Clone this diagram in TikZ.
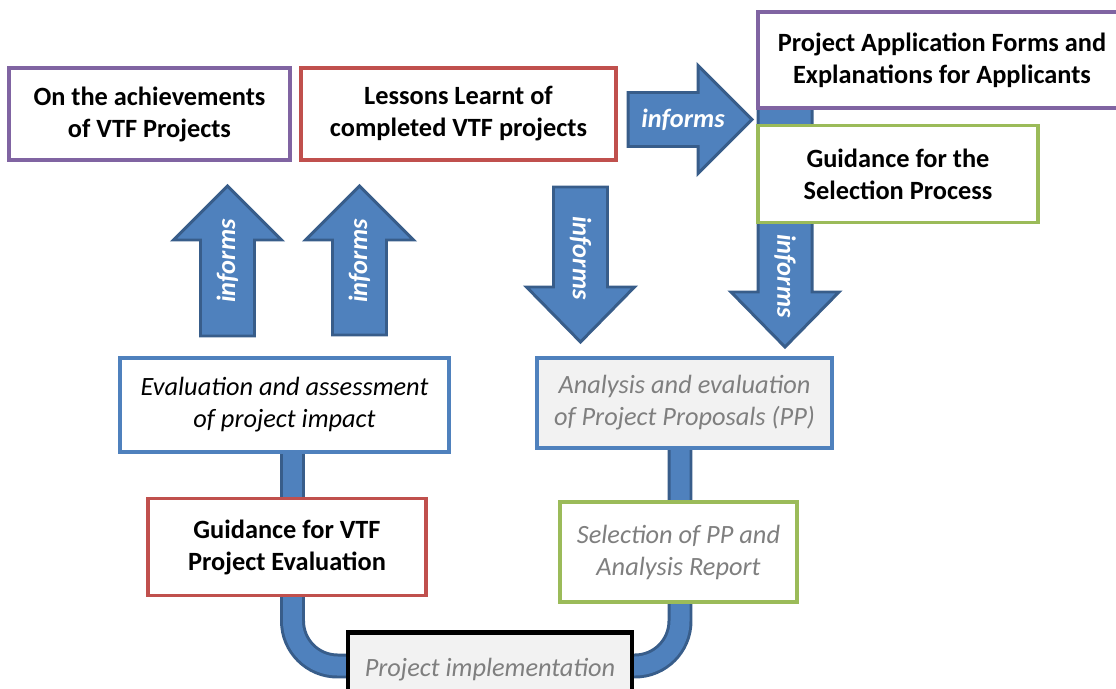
\documentclass[tikz,border=0pt]{standalone}
\usepackage{fontspec}
\setmainfont{Carlito}
\usetikzlibrary{backgrounds}
\definecolor{vtfpurple}{HTML}{8064A2}
\definecolor{vtfred}{HTML}{C0504D}
\definecolor{vtfgreen}{HTML}{9BBB59}
\definecolor{vtfblue}{HTML}{4F81BD}
\definecolor{vtfdark}{HTML}{385D8A}
\definecolor{vtfgrey}{HTML}{7F7F7F}
\definecolor{vtffill}{HTML}{F2F2F2}
\tikzset{
  infobox/.style={draw, line width=2.2pt, fill=white, align=center, inner sep=0pt,
    execute at begin node={\rule{0pt}{15pt}}},
  titlebox/.style={infobox, font=\fontsize{15}{18.2}\selectfont\bfseries},
  stepbox/.style={infobox, font=\fontsize{15}{18.2}\selectfont\itshape},
  greybox/.style={stepbox, text=vtfgrey},
  blockarrow/.style={draw=vtfdark, fill=vtfblue, line width=1.7pt, line join=miter},
  informs/.style={text=white, font=\fontsize{15}{18}\selectfont\bfseries\itshape, inner sep=0pt},
  pipe/.style={draw=vtfdark, line width=1.7pt, double=vtfblue, double distance=0.38cm, rounded corners=0.9cm}
}
\def\informsup(#1,#2,#3,#4,#5){
  \draw[blockarrow] (#1-27,#2) -- (#1-27,#3+54) -- (#1-54,#3+54) -- (#1,#3)
    -- (#1+54,#3+54) -- (#1+27,#3+54) -- (#1+27,#2) -- cycle;
  \node[informs, rotate=90] (#5) at (#1,#4) {informs};
}
\def\informsdown(#1,#2,#3,#4,#5){
  \draw[blockarrow] (#1-27,#2) -- (#1-27,#3-55) -- (#1-54,#3-55) -- (#1,#3)
    -- (#1+54,#3-55) -- (#1+27,#3-55) -- (#1+27,#2) -- cycle;
  \node[informs, rotate=-90] (#5) at (#1,#4) {informs};
}
\def\informsright(#1,#2,#3,#4,#5){
  \draw[blockarrow] (#2,#1-27) -- (#3-54,#1-27) -- (#3-54,#1-54) -- (#3,#1)
    -- (#3-54,#1+54) -- (#3-54,#1+27) -- (#2,#1+27) -- cycle;
  \node[informs] (#5) at (#4,#1) {informs};
}
\begin{document}
\begin{tikzpicture}[x=0.02cm, y=-0.02cm]
\useasboundingbox (0,0) rectangle (1116,689);

\node[titlebox, draw=vtfpurple, minimum width=5.62cm, minimum height=1.84cm] (achieve) at (149.5,114) {On the achievements\\of VTF Projects};
\node[titlebox, draw=vtfred, minimum width=6.3cm, minimum height=1.84cm] (lessons) at (458.5,114) {Lessons Learnt of\\completed VTF projects};
\node[titlebox, draw=vtfpurple, minimum width=7.36cm, minimum height=1.92cm] (forms) at (942,60) {Project Application Forms and\\Explanations for Applicants};
\node[titlebox, draw=vtfgreen, minimum width=5.6cm, minimum height=1.94cm] (selguide) at (898,174) {Guidance for the\\Selection Process};

\node[stepbox, draw=vtfblue, minimum width=6.58cm, minimum height=1.88cm] (evaluation) at (284.5,405) {Evaluation and assessment\\of project impact};
\node[greybox, draw=vtfblue, fill=vtffill, minimum width=5.9cm, minimum height=1.8cm] (analysis) at (684.5,403) {Analysis and evaluation\\of Project Proposals (PP)};
\node[titlebox, draw=vtfred, minimum width=5.56cm, minimum height=1.94cm] (evalguide) at (287,547) {Guidance for VTF\\Project Evaluation};
\node[greybox, draw=vtfgreen, minimum width=4.74cm, minimum height=2cm] (selection) at (678.5,552) {Selection of PP and\\Analysis Report};
\node[greybox, draw=black, line width=2.5pt, fill=vtffill, minimum width=5.68cm, minimum height=1.34cm] (implement) at (490,666) {Project implementation};

\begin{pgfonlayer}{background}
\draw[pipe] ([xshift=0.16cm]evaluation.south) |- (implement.center) -| ([xshift=-0.09cm]analysis.south);
\informsdown(785,100,347,276,informsD)
\end{pgfonlayer}

\informsup(227.5,336,186,261,informsA)
\informsup(359.5,335,186,261,informsB)
\informsdown(580.5,187,342,258,informsC)
\informsright(119.5,628,752,683,informsR)
\end{tikzpicture}
\end{document}
